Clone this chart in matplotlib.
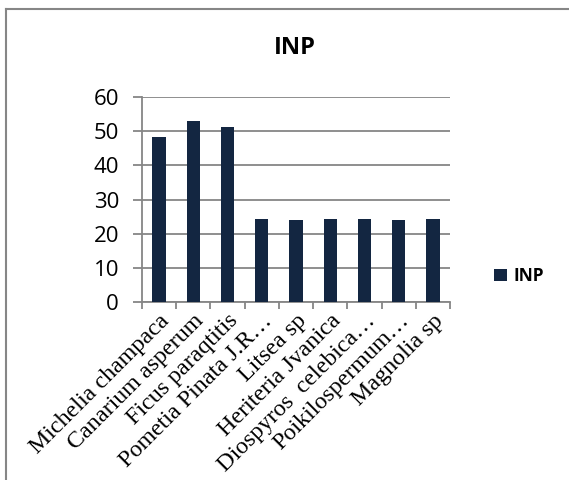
import matplotlib
matplotlib.use("Agg")
import matplotlib.pyplot as plt
from matplotlib.lines import Line2D

categories = ["Michelia champaca", "Canarium asperum", "Ficus paraqtitis",
              "Pometia Pinata J.R\u2026", "Litsea sp", "Heriteria Jvanica",
              "Diospyros  celebica\u2026", "Poikilospermum\u2026", "Magnolia sp"]
values = [48.2, 53.1, 51.2, 24.4, 23.9, 24.4, 24.4, 24.0, 24.3]
yticks = [0, 10, 20, 30, 40, 50, 60]
series_name = "INP"

W, H = 569, 480
fig = plt.figure(figsize=(W/100, H/100), dpi=100)
ax = fig.add_axes([142/W, 1-302/H, (450-142)/W, (302-97)/H])

bar_color = "#132641"
x = list(range(len(categories)))
ax.bar(x, values, width=0.39, color=bar_color, label=series_name, zorder=3)
ax.set_xlim(-0.5, len(categories)-0.5)
ax.set_ylim(0, 60)
ax.set_yticks(yticks)
ax.set_yticklabels([str(t) for t in yticks], fontsize=16, family="Open Sans")
ax.yaxis.grid(True, color="#868686", linewidth=1.3, zorder=0)
ax.set_xticks([i - 0.5 for i in range(len(categories)+1)], minor=False)
ax.set_xticklabels([])
ax.set_xticks(x, minor=True)
ax.set_xticklabels(categories, minor=True, rotation=45, ha="right", va="top",
                   rotation_mode="anchor", fontsize=17.3, family="Liberation Serif")
ax.tick_params(axis="x", which="minor", length=0, pad=6)
ax.tick_params(axis="x", which="major", length=5, color="#868686", width=1.3)
ax.tick_params(axis="y", length=6.5, color="#868686", width=1.3, pad=10)
for s in ["top", "right"]:
    ax.spines[s].set_visible(False)
for s in ["left", "bottom"]:
    ax.spines[s].set_color("#868686")
    ax.spines[s].set_linewidth(1.3)

fig.text(295/W, 1-48/H, "INP", ha="center", va="center", fontsize=17,
         fontweight="bold", family="Open Sans")

leg = fig.legend(loc="center left", bbox_to_anchor=(485/W, 1-276/H), frameon=False,
                 prop={"family": "Open Sans", "weight": "bold", "size": 12.5},
                 handlelength=0.75, handleheight=0.75, handletextpad=0.4, borderpad=0)

fig.add_artist(Line2D([6/W, 6/W], [0, 1-8.5/H], transform=fig.transFigure,
                      color="#868686", linewidth=1.5))
fig.add_artist(Line2D([6/W, 1], [1-8.5/H, 1-8.5/H], transform=fig.transFigure,
                      color="#868686", linewidth=1.5))

fig.savefig("out.png", dpi=100)
